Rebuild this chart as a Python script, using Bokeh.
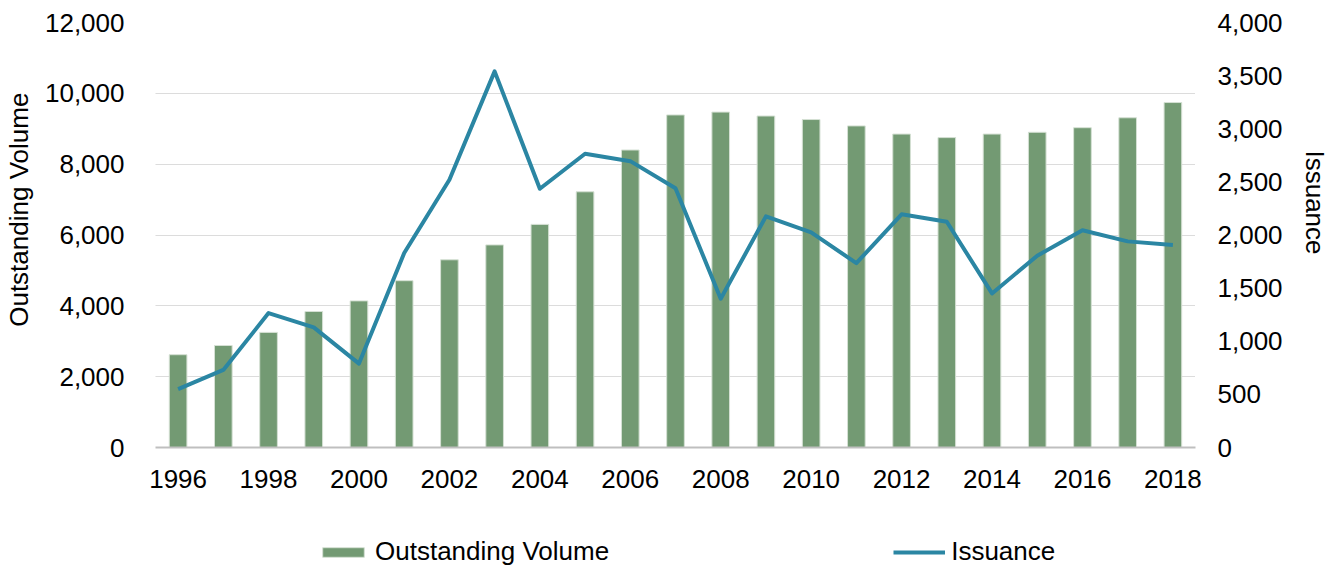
import math
from bokeh.plotting import figure
from bokeh.layouts import column
from bokeh.models import (Range1d, LinearAxis, FixedTicker, NumeralTickFormatter,
                          Legend, LegendItem, ColumnDataSource)
from bokeh.embed import file_html
from bokeh.resources import INLINE

years = list(range(1996, 2019))
outstanding_volume = [2620, 2880, 3250, 3840, 4140, 4710, 5300, 5720, 6300, 7220, 8400,
                      9390, 9470, 9360, 9260, 9080, 8850, 8750, 8850, 8900, 9030, 9310, 9740]
issuance = [550, 730, 1265, 1130, 790, 1830, 2520, 3540, 2435, 2765, 2695,
            2440, 1400, 2175, 2025, 1735, 2195, 2125, 1450, 1805, 2045, 1940, 1905]
left_ticks = list(range(0, 12001, 2000))
right_ticks = list(range(0, 4001, 500))
x_ticks = list(range(1996, 2019, 2))

FONT = "Liberation Sans"
FS = "26px"
BAR = "#739A73"
BAR_EDGE = "#D5E0D4"
LINE = "#2B86A3"
NB = "\u00a0"

src = ColumnDataSource(dict(year=years, vol=outstanding_volume, iss=issuance))

p = figure(width=1332, height=530, output_backend="svg", toolbar_location=None,
           x_range=Range1d(1995.5, 2018.5), y_range=Range1d(0, 12000),
           min_border_left=148, min_border_right=130, min_border_top=22, min_border_bottom=83)
p.outline_line_color = None
p.background_fill_color = "white"
p.border_fill_color = "white"

p.extra_y_ranges = {"iss": Range1d(0, 4000)}

p.vbar(x="year", top="vol", width=0.39, source=src, fill_color=BAR,
       line_color=BAR_EDGE, line_width=1)
p.line(x="year", y="iss", source=src, y_range_name="iss", line_color=LINE,
       line_width=4, line_join="round")

# x axis
xa = p.xaxis[0]
xa.ticker = FixedTicker(ticks=x_ticks)
xa.major_tick_line_color = None
xa.minor_tick_line_color = None
xa.axis_line_color = "#BFBFBF"
xa.axis_line_width = 2
xa.major_label_text_font = FONT
xa.major_label_text_font_size = FS
xa.major_label_text_color = "#000000"
xa.major_label_standoff = 16

# left y axis
ya = p.yaxis[0]
ya.ticker = FixedTicker(ticks=left_ticks)
ya.formatter = NumeralTickFormatter(format="0,0")
ya.major_tick_line_color = None
ya.minor_tick_line_color = None
ya.axis_line_color = None
ya.major_label_text_font = FONT
ya.major_label_text_font_size = FS
ya.major_label_text_color = "#000000"
ya.major_label_standoff = 25
ya.axis_label = NB * 7 + "Outstanding Volume"
ya.axis_label_text_font = FONT
ya.axis_label_text_font_size = FS
ya.axis_label_text_font_style = "normal"
ya.axis_label_text_color = "#000000"
ya.axis_label_standoff = 8

# right y axis
ry = LinearAxis(y_range_name="iss", ticker=FixedTicker(ticks=right_ticks),
                formatter=NumeralTickFormatter(format="0,0"))
ry.major_tick_line_color = None
ry.minor_tick_line_color = None
ry.axis_line_color = None
ry.major_label_text_font = FONT
ry.major_label_text_font_size = FS
ry.major_label_text_color = "#000000"
ry.major_label_standoff = 16
ry.axis_label = "Issuance" + NB * 9
ry.axis_label_text_font = FONT
ry.axis_label_text_font_size = FS
ry.axis_label_text_font_style = "normal"
ry.axis_label_text_color = "#000000"
ry.axis_label_standoff = 14
p.add_layout(ry, "right")

p.xgrid.grid_line_color = None
p.ygrid.ticker = FixedTicker(ticks=left_ticks)
p.ygrid.grid_line_color = "#B8B8B8"
p.ygrid.grid_line_dash = "1 1"
p.ygrid.grid_line_width = 1

# legend strip below the chart (its frame is aligned with the main frame)
lg = figure(width=1332, height=37, output_backend="svg", toolbar_location=None,
            x_range=Range1d(0, 1054), y_range=Range1d(0, 37),
            min_border_left=148, min_border_right=130, min_border_top=0, min_border_bottom=0)
lg.outline_line_color = None
lg.axis.visible = False
lg.grid.visible = False
# same series, hidden: only used for the legend swatches
lg_bar = lg.vbar(x="year", top="vol", width=1, source=src, fill_color=BAR,
                 line_color=BAR_EDGE, line_width=1, visible=False)
lg_line = lg.line(x="year", y="iss", source=src, line_color=LINE, line_width=4,
                  visible=False)
legend = Legend(items=[LegendItem(label="Outstanding Volume", renderers=[lg_bar]),
                       LegendItem(label="Issuance", renderers=[lg_line])],
                orientation="horizontal", location=(162, 0),
                glyph_width=52, glyph_height=12, label_standoff=6, spacing=284,
                padding=0, margin=0, border_line_color=None, background_fill_alpha=0,
                inactive_fill_alpha=0,
                label_text_font=FONT, label_text_font_size=FS, label_text_color="#000000")
lg.add_layout(legend, "center")

open("out.html", "w").write(file_html(column(p, lg, spacing=0), INLINE))
